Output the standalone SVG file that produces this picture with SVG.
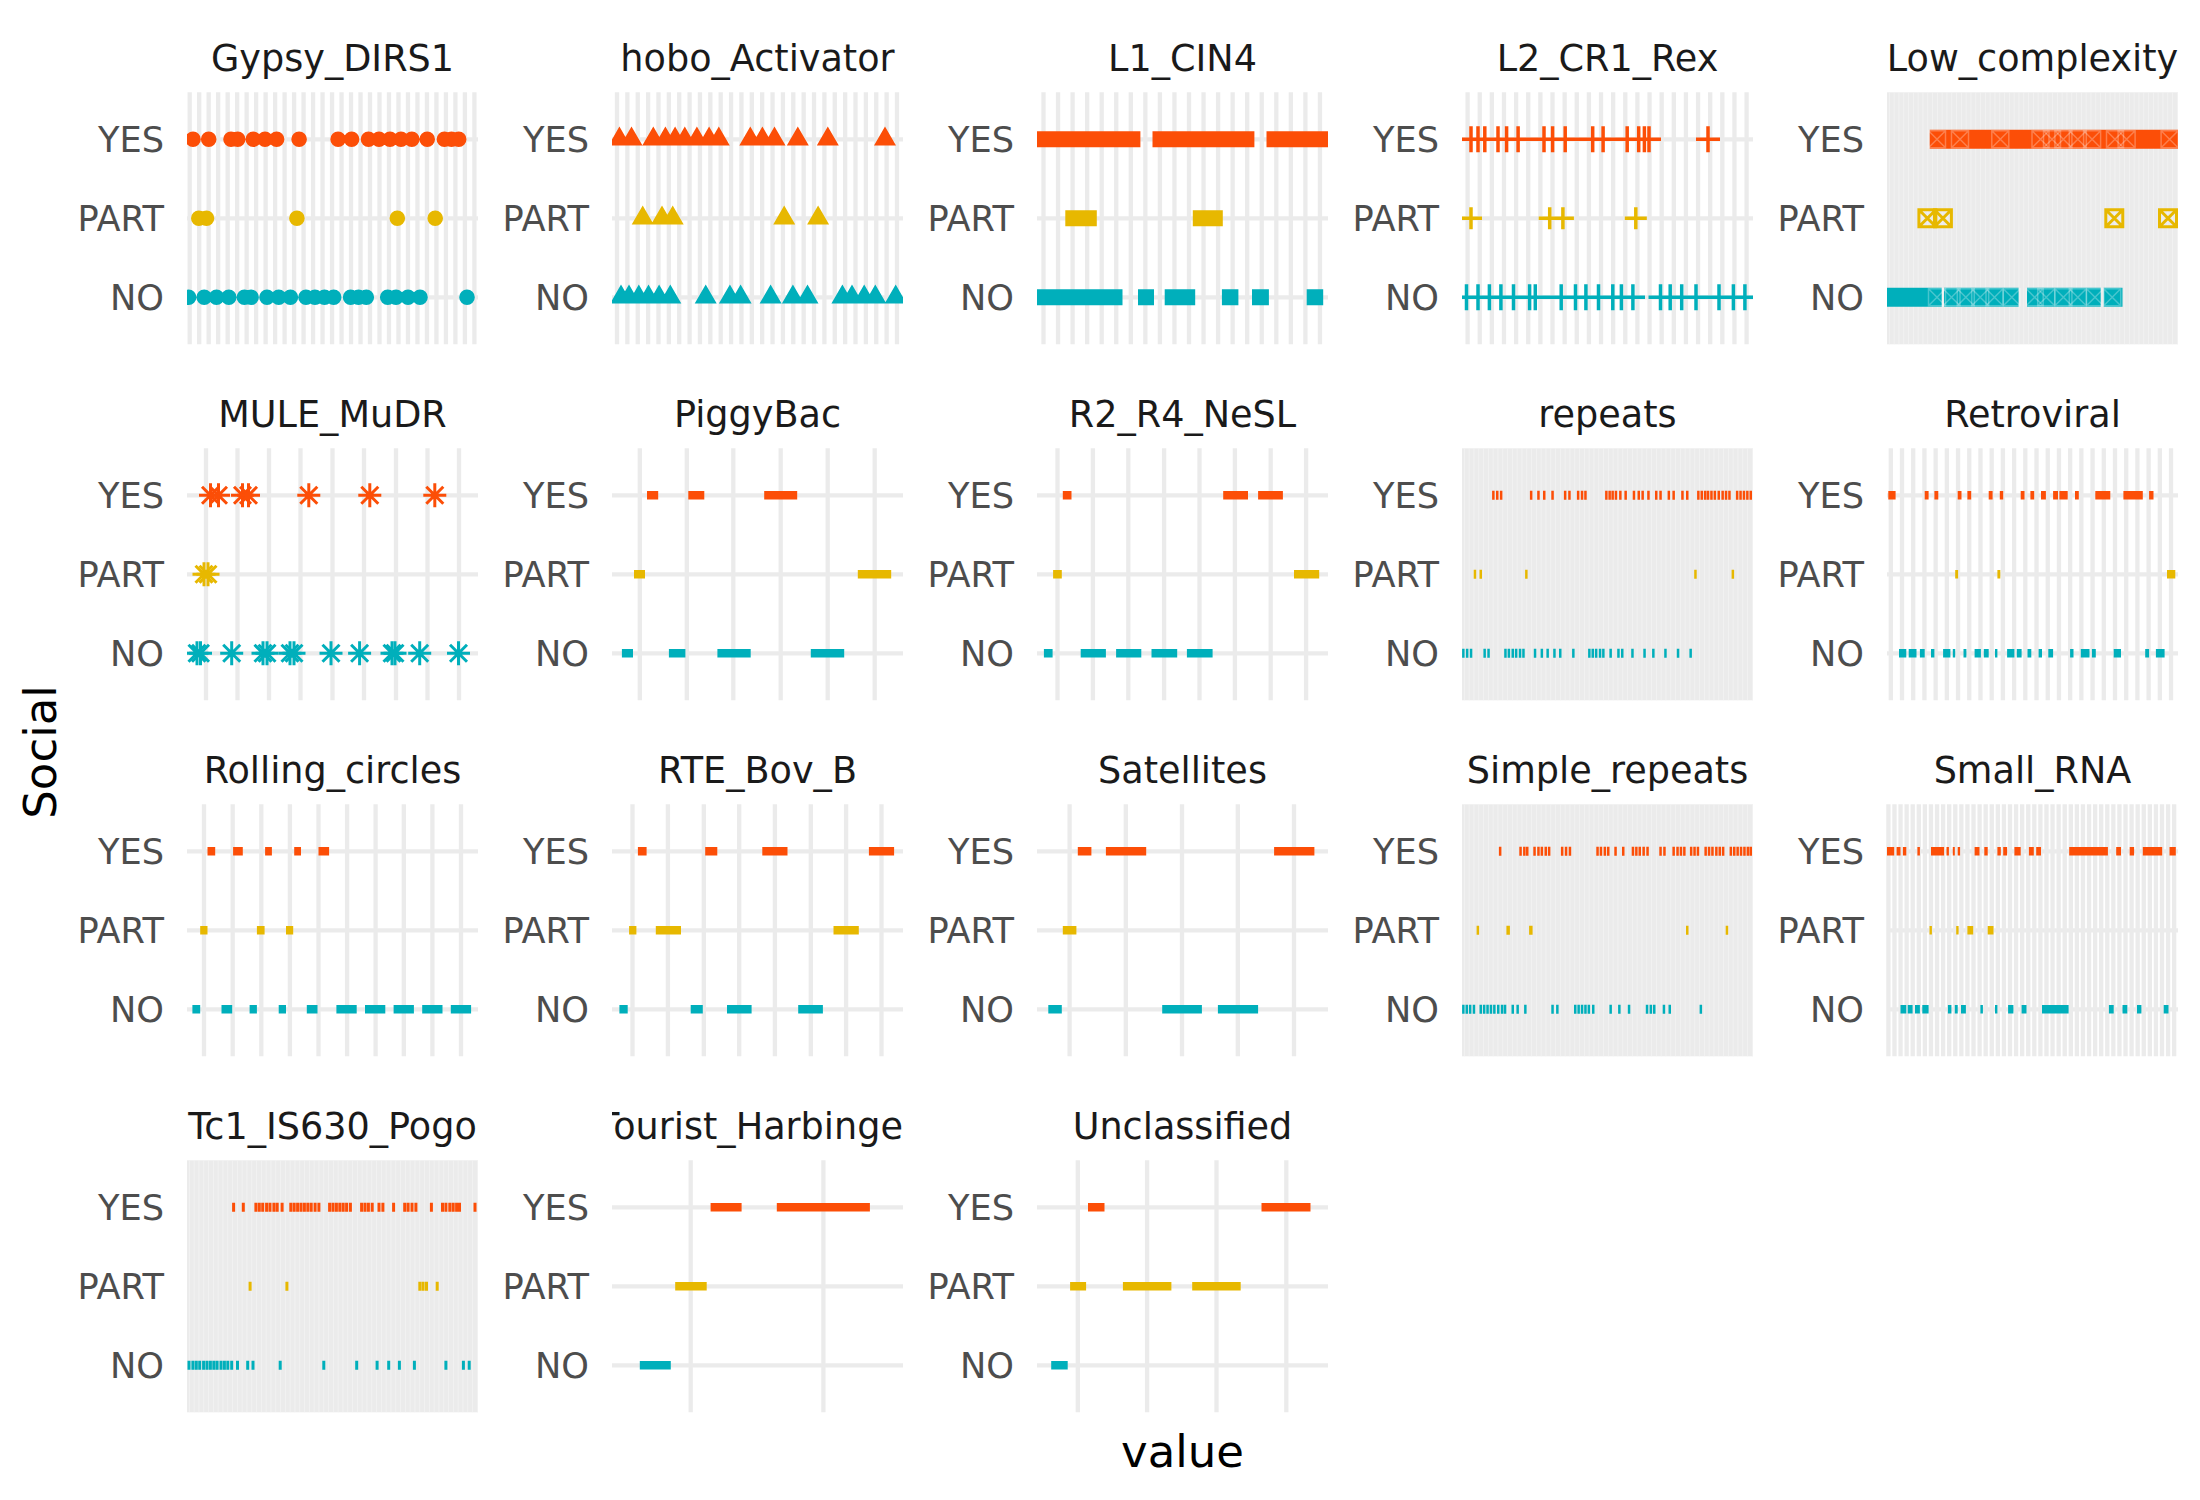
<svg xmlns="http://www.w3.org/2000/svg" width="2200" height="1500" viewBox="0 0 2200 1500">
<style>
text{font-family:"DejaVu Sans","Liberation Sans",sans-serif}
.st{font-size:36.6px;fill:#1A1A1A;text-anchor:middle}
.ax{font-size:35.2px;fill:#4D4D4D;text-anchor:end}
.ti{font-size:45px;fill:#000;text-anchor:middle}
.gr{stroke:#EBEBEB;stroke-width:4.3;fill:none}
.gv{stroke:#EBEBEB;stroke-width:252;fill:none}
.dense{fill:#EBEBEB}
.lt{stroke:#F4F4F4;stroke-width:252;fill:none;stroke-dasharray:0.7 4.1}
.Y{stroke:#FC4E07;fill:none}
.P{stroke:#E7B800;fill:none}
.N{stroke:#00AFBB;fill:none}
.fY{fill:#FC4E07}.fP{fill:#E7B800}.fN{fill:#00AFBB}
.bar{stroke-width:8.6}
.tk{stroke-width:9}
.sq{stroke-width:16}
.lo{stroke-width:19}
.dot{stroke-width:15.6;stroke-linecap:round}
.cr{stroke-width:3.5}
.as{stroke-width:3}
.bxs{stroke-width:3}
.tex{stroke:#FFFFFF;stroke-opacity:0.28;stroke-width:1.5;fill:none}
</style>
<defs>
<clipPath id="pc"><rect x="0" y="0" width="291" height="252"/></clipPath>
<clipPath id="sc"><rect x="0" y="-60" width="291" height="60"/></clipPath>
<path id="ast" d="M-11.5 0h23M0-12v24M-8.5-8.5l17 17M-8.5 8.5l17-17"/>
<path id="bx" d="M-8.5-8.5h17v17h-17zM-8.5-8.5l17 17M-8.5 8.5l17-17"/>
</defs>
<rect width="2200" height="1500" fill="#FFFFFF"/>

<g id="connectors"></g>

<!-- Row 1 -->
<g id="p-gypsy-dirs1" transform="translate(187,92.3)">
<line class="gv" x1="0.55" y1="126" x2="289.65" y2="126" stroke-dasharray="4.3 5.19"/>
<path class="gr" d="M0 47H291M0 126H291M0 205H291"/>
<text class="st" x="145.5" y="-21" clip-path="url(#sc)">Gypsy_DIRS1</text>
<text class="ax" x="-23" y="59.8">YES</text><text class="ax" x="-23" y="138.8">PART</text><text class="ax" x="-23" y="217.8">NO</text>
<g clip-path="url(#pc)">
<path class="Y dot" d="M6 47h.01M21.7 47h.01M44 47h.01M50.7 47h.01M66.3 47h.01M78 47h.01M89.6 47h.01M112.1 47h.01M151.1 47h.01M164.6 47h.01M181.5 47h.01M192 47h.01M203 47h.01M214 47h.01M224.8 47h.01M240.2 47h.01M257.4 47h.01M264.5 47h.01M271.7 47h.01"/>
<path class="P dot" d="M11.8 126h.01M19.5 126h.01M109.9 126h.01M210.3 126h.01M248.2 126h.01"/>
<path class="N dot" d="M1.6 205h.01M17.2 205h.01M29.5 205h.01M41.8 205h.01M57.4 205h.01M64.1 205h.01M80 205h.01M91.7 205h.01M103.4 205h.01M119 205h.01M128 205h.01M137.5 205h.01M146.7 205h.01M163.6 205h.01M171.5 205h.01M179.3 205h.01M200.7 205h.01M209 205h.01M221 205h.01M233 205h.01M280 205h.01"/>
</g>
</g>

<g id="p-hobo-activator" transform="translate(612,92.3)">
<line class="gv" x1="2.85" y1="126" x2="287.15" y2="126" stroke-dasharray="4.3 6.07"/>
<path class="gr" d="M0 47H291M0 126H291M0 205H291"/>
<text class="st" x="145.5" y="-21" clip-path="url(#sc)">hobo_Activator</text>
<text class="ax" x="-23" y="59.8">YES</text><text class="ax" x="-23" y="138.8">PART</text><text class="ax" x="-23" y="217.8">NO</text>
<g clip-path="url(#pc)">
<path class="fY" d="M7.4 34.3l11 19h-22zM19.5 34.3l11 19h-22zM41.3 34.3l11 19h-22zM53.4 34.3l11 19h-22zM63.1 34.3l11 19h-22zM72.8 34.3l11 19h-22zM84.9 34.3l11 19h-22zM97.1 34.3l11 19h-22zM106.8 34.3l11 19h-22zM138.3 34.3l11 19h-22zM150.4 34.3l11 19h-22zM162.5 34.3l11 19h-22zM185.8 34.3l11 19h-22zM215.8 34.3l11 19h-22zM273 34.3l11 19h-22z"/>
<path class="fP" d="M30.7 113.3l11 19h-22zM50 113.3l11 19h-22zM60.7 113.3l11 19h-22zM172.2 113.3l11 19h-22zM206.1 113.3l11 19h-22z"/>
<path class="fN" d="M9 192.3l11 19h-22zM17 192.3l11 19h-22zM26.8 192.3l11 19h-22zM36.5 192.3l11 19h-22zM47.1 192.3l11 19h-22zM58.3 192.3l11 19h-22zM93.7 192.3l11 19h-22zM117.9 192.3l11 19h-22zM128.6 192.3l11 19h-22zM158.6 192.3l11 19h-22zM180.9 192.3l11 19h-22zM195.5 192.3l11 19h-22zM230.4 192.3l11 19h-22zM240 192.3l11 19h-22zM252.2 192.3l11 19h-22zM263.3 192.3l11 19h-22zM283.7 192.3l11 19h-22z"/>
</g>
</g>

<g id="p-l1-cin4" transform="translate(1037,92.3)">
<line class="gv" x1="4.35" y1="126" x2="285.15" y2="126" stroke-dasharray="4.3 10.25"/>
<path class="gr" d="M0 47H291M0 126H291M0 205H291"/>
<text class="st" x="145.5" y="-21" clip-path="url(#sc)">L1_CIN4</text>
<text class="ax" x="-23" y="59.8">YES</text><text class="ax" x="-23" y="138.8">PART</text><text class="ax" x="-23" y="217.8">NO</text>
<g clip-path="url(#pc)">
<path class="Y sq" d="M0 47H103.4M115.5 47H217.4M229.5 47H291"/>
<path class="P sq" d="M28.3 126H59.8M155.8 126H185.8"/>
<path class="N sq" d="M0 205H85.5M101 205H117M127.7 205H158.2M184.9 205H201.4M215 205H231.9M269.7 205H286.2"/>
</g>
</g>

<g id="p-l2-cr1-rex" transform="translate(1462,92.3)">
<line class="gv" x1="3.45" y1="126" x2="286.75" y2="126" stroke-dasharray="4.3 7.83"/>
<path class="gr" d="M0 47H291M0 126H291M0 205H291"/>
<text class="st" x="145.5" y="-21" clip-path="url(#sc)">L2_CR1_Rex</text>
<text class="ax" x="-23" y="59.8">YES</text><text class="ax" x="-23" y="138.8">PART</text><text class="ax" x="-23" y="217.8">NO</text>
<g clip-path="url(#pc)">
<path class="Y cr" d="M0 47H199M234 47h24M9 34v26M16 34v26M22.8 34v26M36 34v26M44.6 34v26M56.1 34v26M82 34v26M90.6 34v26M103.2 34v26M130.7 34v26M141.1 34v26M165.2 34v26M176.7 34v26M182.4 34v26M187 34v26M246 34v26"/>
<path class="P cr" d="M-2 126h22M76.7 126h35.2M162.8 126h22M9 115v22M87.7 115v22M100.9 115v22M173.8 115v22"/>
<path class="N cr" d="M0 205H183M186.5 205H291M4.5 192v26M16 192v26M27.4 192v26M38.9 192v26M51.5 192v26M67.6 192v26M73.3 192v26M99.2 192v26M113.5 192v26M123.9 192v26M136.5 192v26M150.8 192v26M159.4 192v26M170.9 192v26M198.5 192v26M208.2 192v26M219.7 192v26M234 192v26M257 192v26M271.4 192v26M282.9 192v26"/>
</g>
</g>

<g id="p-low-complexity" transform="translate(1887,92.3)">
<rect class="dense" x="0" y="0" width="291" height="252"/>
<line class="lt" x1="2" y1="126" x2="291" y2="126"/>
<text class="st" x="145.5" y="-21" clip-path="url(#sc)">Low_complexity</text>
<text class="ax" x="-23" y="59.8">YES</text><text class="ax" x="-23" y="138.8">PART</text><text class="ax" x="-23" y="217.8">NO</text>
<g clip-path="url(#pc)">
<path class="Y lo" d="M42.7 47H291"/>
<path class="N lo" d="M0 205H54.7M57 205H131.6M140 205H213.7M216.6 205H235.5"/>
<g class="tex">
<use href="#bx" x="50" y="47"/><use href="#bx" x="73" y="47"/><use href="#bx" x="113.3" y="47"/><use href="#bx" x="153.5" y="47"/><use href="#bx" x="165" y="47"/><use href="#bx" x="176.4" y="47"/><use href="#bx" x="190.8" y="47"/><use href="#bx" x="205.1" y="47"/><use href="#bx" x="228" y="47"/><use href="#bx" x="239.6" y="47"/><use href="#bx" x="282.6" y="47"/>
<use href="#bx" x="50" y="205"/><use href="#bx" x="64.5" y="205"/><use href="#bx" x="78.8" y="205"/><use href="#bx" x="93.2" y="205"/><use href="#bx" x="107.5" y="205"/><use href="#bx" x="124.8" y="205"/><use href="#bx" x="147.7" y="205"/><use href="#bx" x="159.2" y="205"/><use href="#bx" x="176.4" y="205"/><use href="#bx" x="190.8" y="205"/><use href="#bx" x="208" y="205"/><use href="#bx" x="225.2" y="205"/>
</g>
<g class="P bxs"><use href="#bx" x="40.4" y="126"/><use href="#bx" x="55.9" y="126"/><use href="#bx" x="227.3" y="126"/><use href="#bx" x="281" y="126"/></g>
</g>
</g>

<!-- Row 2 -->
<g id="p-mule-mudr" transform="translate(187,448.3)">
<path class="gr" d="M19 0V252M50.5 0V252M82 0V252M113.5 0V252M145.5 0V252M177 0V252M209 0V252M240.5 0V252M272 0V252"/>
<path class="gr" d="M0 47H291M0 126H291M0 205H291"/>
<text class="st" x="145.5" y="-21" clip-path="url(#sc)">MULE_MuDR</text>
<text class="ax" x="-23" y="59.8">YES</text><text class="ax" x="-23" y="138.8">PART</text><text class="ax" x="-23" y="217.8">NO</text>
<g clip-path="url(#pc)">
<g class="Y as"><use href="#ast" x="23.5" y="47"/><use href="#ast" x="31.5" y="47"/><use href="#ast" x="55.5" y="47"/><use href="#ast" x="61.5" y="47"/><use href="#ast" x="121.8" y="47"/><use href="#ast" x="182.8" y="47"/><use href="#ast" x="247.8" y="47"/></g>
<g class="P as"><use href="#ast" x="17" y="126"/><use href="#ast" x="21" y="126"/></g>
<g class="N as"><use href="#ast" x="10" y="205"/><use href="#ast" x="13.5" y="205"/><use href="#ast" x="44.7" y="205"/><use href="#ast" x="76" y="205"/><use href="#ast" x="80" y="205"/><use href="#ast" x="103" y="205"/><use href="#ast" x="107" y="205"/><use href="#ast" x="144" y="205"/><use href="#ast" x="172.6" y="205"/><use href="#ast" x="205" y="205"/><use href="#ast" x="208" y="205"/><use href="#ast" x="232.7" y="205"/><use href="#ast" x="271.5" y="205"/></g>
</g>
</g>

<g id="p-piggybac" transform="translate(612,448.3)">
<path class="gr" d="M27.8 0V252M74.8 0V252M121.3 0V252M168.7 0V252M215.7 0V252M262.7 0V252"/>
<path class="gr" d="M0 47H291M0 126H291M0 205H291"/>
<text class="st" x="145.5" y="-21" clip-path="url(#sc)">PiggyBac</text>
<text class="ax" x="-23" y="59.8">YES</text><text class="ax" x="-23" y="138.8">PART</text><text class="ax" x="-23" y="217.8">NO</text>
<g clip-path="url(#pc)">
<path class="Y bar" d="M35 47H46.2M76.3 47H92.3M152.2 47H185.2"/>
<path class="P bar" d="M22 126H33M245.8 126H279.2"/>
<path class="N bar" d="M9.9 205H21M56.9 205H73.4M105.4 205H138.7M198.8 205H232.2"/>
</g>
</g>

<g id="p-r2-r4-nesl" transform="translate(1037,448.3)">
<path class="gr" d="M20.5 0V252M55.9 0V252M91.3 0V252M127.1 0V252M162.5 0V252M197.9 0V252M233.7 0V252M269.1 0V252"/>
<path class="gr" d="M0 47H291M0 126H291M0 205H291"/>
<text class="st" x="145.5" y="-21" clip-path="url(#sc)">R2_R4_NeSL</text>
<text class="ax" x="-23" y="59.8">YES</text><text class="ax" x="-23" y="138.8">PART</text><text class="ax" x="-23" y="217.8">NO</text>
<g clip-path="url(#pc)">
<path class="Y bar" d="M25.8 47H34.5M186.2 47H211M221.1 47H245.9"/>
<path class="P bar" d="M16.1 126H24.8M257 126H282.2"/>
<path class="N bar" d="M6.9 205H15.6M43.7 205H68.9M79.1 205H104.3M114.5 205H140.2M149.9 205H175.6"/>
</g>
</g>

<g id="p-repeats" transform="translate(1462,448.3)">
<rect class="dense" x="0" y="0" width="291" height="252"/>
<line class="lt" x1="2" y1="126" x2="291" y2="126"/>
<text class="st" x="145.5" y="-21" clip-path="url(#sc)">repeats</text>
<text class="ax" x="-23" y="59.8">YES</text><text class="ax" x="-23" y="138.8">PART</text><text class="ax" x="-23" y="217.8">NO</text>
<g clip-path="url(#pc)">
<path class="Y tk" d="M30.1 47h2.5M34 47h2.5M37.9 47h2.5M67.9 47h2.5M75.2 47h2.5M81 47h2.5M89.3 47h2.5M101.9 47h2.5M106.2 47h2.5M114.9 47h2.5M118.8 47h2.5M122.2 47h2.5M143.1 47h2.5M146.4 47h2.5M149.4 47h2.5M152.7 47h2.5M157.1 47h2.5M162.4 47h2.5M170.7 47h2.5M175.5 47h2.5M179.4 47h2.5M185.2 47h2.5M193 47h2.5M197.3 47h2.5M205.6 47h2.5M210.4 47h2.5M219.2 47h2.5M224 47h2.5M235.1 47h2.5M238.5 47h2.5M241.9 47h2.5M244.8 47h2.5M248.2 47h2.5M251.6 47h2.5M255.5 47h2.5M259.4 47h2.5M262.8 47h2.5M266.2 47h2.5M273.9 47h2.5M277.3 47h2.5M280.7 47h2.5M284.1 47h2.5M287.5 47h2.5"/>
<path class="P tk" d="M11.7 126h2.5M17.5 126h2.5M63.1 126h2.5M232.2 126h2.5M269.6 126h2.5"/>
<path class="N tk" d="M0.1 205h2.5M3.9 205h2.5M7.8 205h2.5M21.4 205h2.5M25.3 205h2.5M42.2 205h2.5M45.6 205h2.5M49.5 205h2.5M52.9 205h2.5M56.8 205h2.5M60.2 205h2.5M71.8 205h2.5M78.6 205h2.5M84.4 205h2.5M91.2 205h2.5M97 205h2.5M110.1 205h2.5M126.1 205h2.5M129.5 205h2.5M132.9 205h2.5M136.8 205h2.5M140.1 205h2.5M147.4 205h2.5M155.2 205h2.5M159 205h2.5M169.2 205h2.5M181.3 205h2.5M190.1 205h2.5M202.2 205h2.5M214.8 205h2.5M227.4 205h2.5"/>
</g>
</g>

<g id="p-retroviral" transform="translate(1887,448.3)">
<line class="gv" x1="1.65" y1="126" x2="286.15" y2="126" stroke-dasharray="4.3 6.91"/>
<path class="gr" d="M0 47H291M0 126H291M0 205H291"/>
<text class="st" x="145.5" y="-21" clip-path="url(#sc)">Retroviral</text>
<text class="ax" x="-23" y="59.8">YES</text><text class="ax" x="-23" y="138.8">PART</text><text class="ax" x="-23" y="217.8">NO</text>
<g clip-path="url(#pc)">
<path class="Y bar" d="M1.3 47H8.6M37.7 47H41.6M47.4 47H51.3M70.7 47H74.5M80.4 47H84.2M101.7 47H105.6M112.8 47H116.2M133.7 47H137.5M143.4 47H147.2M154 47H158.9M166.1 47H171M172.4 47H180.7M188 47H191.8M208.3 47H223.3M236.4 47H255.8M262.1 47H266.5"/>
<path class="P bar" d="M68.2 126H71.1M110.4 126H113.3M280 126H288.3"/>
<path class="N bar" d="M12 205H19.3M21.7 205H29.5M32.9 205H37.7M44 205H47.4M56.1 205H63.4M65.8 205H68.2M76.5 205H79.4M87.6 205H93.9M96.8 205H101.7M108 205H110.4M120.1 205H127.4M129.8 205H134.6M140.5 205H144.3M151.6 205H155M161.3 205H166.1M183.1 205H186.5M193.8 205H202.5M204.9 205H208.8M226.7 205H234M258.2 205H262.1M268.9 205H277.6"/>
</g>
</g>

<!-- Row 3 -->
<g id="p-rolling-circles" transform="translate(187,804.3)">
<path class="gr" d="M17 0V252M45.7 0V252M74.3 0V252M102.9 0V252M131.5 0V252M160.1 0V252M188.6 0V252M216.8 0V252M245.4 0V252M274 0V252"/>
<path class="gr" d="M0 47H291M0 126H291M0 205H291"/>
<text class="st" x="145.5" y="-21" clip-path="url(#sc)">Rolling_circles</text>
<text class="ax" x="-23" y="59.8">YES</text><text class="ax" x="-23" y="138.8">PART</text><text class="ax" x="-23" y="217.8">NO</text>
<g clip-path="url(#pc)">
<path class="Y bar" d="M20.5 47H28.2M46.1 47H55.8M78.1 47H84.9M107.2 47H114M131.5 47H142.1"/>
<path class="P bar" d="M13.2 126H20.5M69.9 126H77.6M99 126H106.2"/>
<path class="N bar" d="M5.4 205H13.2M34.5 205H45.2M62.6 205H69.9M91.7 205H99M119.8 205H130.5M149.4 205H169.7M178 205H198.3M206.6 205H226.9M235.2 205H255.5M263.8 205H284.1"/>
</g>
</g>

<g id="p-rte-bov-b" transform="translate(612,804.3)">
<path class="gr" d="M20.5 0V252M55.9 0V252M91.8 0V252M127.2 0V252M162.9 0V252M198.8 0V252M234.1 0V252M269.5 0V252"/>
<path class="gr" d="M0 47H291M0 126H291M0 205H291"/>
<text class="st" x="145.5" y="-21" clip-path="url(#sc)">RTE_Bov_B</text>
<text class="ax" x="-23" y="59.8">YES</text><text class="ax" x="-23" y="138.8">PART</text><text class="ax" x="-23" y="217.8">NO</text>
<g clip-path="url(#pc)">
<path class="Y bar" d="M25.9 47H34.6M93.2 47H105.3M150.3 47H175.5M256.9 47H282.1"/>
<path class="P bar" d="M17.1 126H24.4M43.8 126H69M221.5 126H246.8"/>
<path class="N bar" d="M7.4 205H15.7M78.7 205H90.8M115 205H139.6M186.2 205H210.9"/>
</g>
</g>

<g id="p-satellites" transform="translate(1037,804.3)">
<path class="gr" d="M32.6 0V252M88.8 0V252M145 0V252M200.8 0V252M257 0V252"/>
<path class="gr" d="M0 47H291M0 126H291M0 205H291"/>
<text class="st" x="145.5" y="-21" clip-path="url(#sc)">Satellites</text>
<text class="ax" x="-23" y="59.8">YES</text><text class="ax" x="-23" y="138.8">PART</text><text class="ax" x="-23" y="217.8">NO</text>
<g clip-path="url(#pc)">
<path class="Y bar" d="M40.8 47H54.4M68.9 47H109.2M237.1 47H277.4"/>
<path class="P bar" d="M25.8 126H39.4"/>
<path class="N bar" d="M11.3 205H24.8M125.2 205H164.9M180.9 205H221.1"/>
</g>
</g>

<g id="p-simple-repeats" transform="translate(1462,804.3)">
<rect class="dense" x="0" y="0" width="291" height="252"/>
<line class="lt" x1="2" y1="126" x2="291" y2="126"/>
<text class="st" x="145.5" y="-21" clip-path="url(#sc)">Simple_repeats</text>
<text class="ax" x="-23" y="59.8">YES</text><text class="ax" x="-23" y="138.8">PART</text><text class="ax" x="-23" y="217.8">NO</text>
<g clip-path="url(#pc)">
<path class="Y tk" d="M36.9 47h2.5M57.3 47h2.5M61.1 47h2.5M64 47h2.5M71.3 47h2.5M75.2 47h2.5M78.6 47h2.5M82.5 47h2.5M85.9 47h2.5M98.9 47h2.5M102.8 47h2.5M106.7 47h2.5M134.3 47h2.5M137.7 47h2.5M141.6 47h2.5M145 47h2.5M152.3 47h2.5M160 47h2.5M169.7 47h2.5M173.1 47h2.5M176.5 47h2.5M180.4 47h2.5M184.3 47h2.5M197.3 47h2.5M201.2 47h2.5M210.4 47h2.5M214.3 47h2.5M217.7 47h2.5M221.1 47h2.5M227.9 47h2.5M231.3 47h2.5M234.7 47h2.5M242.4 47h2.5M245.8 47h2.5M249.2 47h2.5M253.1 47h2.5M256.5 47h2.5M259.9 47h2.5M267.6 47h2.5M271 47h2.5M274.4 47h2.5M277.8 47h2.5M281.2 47h2.5M284.6 47h2.5M287.5 47h2.5"/>
<path class="P tk" d="M14.6 126h2.5M44.4 126h3.5M67.1 126h3.5M224 126h2.5M263.7 126h2.5"/>
<path class="N tk" d="M0.1 205h2.5M3.5 205h2.5M6.9 205h2.5M10.7 205h2.5M17.5 205h2.5M20.9 205h2.5M24.3 205h2.5M27.7 205h2.5M31.1 205h2.5M35 205h2.5M38.8 205h2.5M41.8 205h2.5M49.5 205h2.5M54.4 205h2.5M62.1 205h2.5M89.3 205h2.5M94.1 205h2.5M112 205h2.5M115.4 205h2.5M118.8 205h2.5M122.2 205h2.5M125.6 205h2.5M130 205h2.5M147.4 205h2.5M156.1 205h2.5M165.8 205h2.5M183.8 205h2.5M187.6 205h2.5M191 205h2.5M200.7 205h2.5M206.5 205h2.5M237.6 205h2.5"/>
</g>
</g>

<g id="p-small-rna" transform="translate(1887,804.3)">
<line class="gv" x1="-0.75" y1="126" x2="289.45" y2="126" stroke-dasharray="4.3 1.78"/>
<path class="gr" d="M0 47H291M0 126H291M0 205H291"/>
<text class="st" x="145.5" y="-21" clip-path="url(#sc)">Small_RNA</text>
<text class="ax" x="-23" y="59.8">YES</text><text class="ax" x="-23" y="138.8">PART</text><text class="ax" x="-23" y="217.8">NO</text>
<g clip-path="url(#pc)">
<path class="Y bar" d="M0 47H7.2M9.6 47H13.5M15.9 47H19.3M30.4 47H32.9M44 47H57.1M59.5 47H61.9M65.8 47H67.8M70.7 47H73.1M87.6 47H92.5M97.3 47H100.7M110.4 47H113.8M116.2 47H120.1M127.4 47H133.7M141.9 47H146.8M149.2 47H154M182.2 47H220.9M229.2 47H234M242.7 47H247.1M255.8 47H275.2M282.5 47H288.8"/>
<path class="P bar" d="M42.5 126H44.9M69.2 126H71.6M80.4 126H86.2M100.7 126H106.5"/>
<path class="N bar" d="M13.5 205H19.3M20.7 205H25.6M28 205H32.9M35.3 205H41.6M60.9 205H64.4M67.8 205H70.7M74 205H78.9M93.4 205H95.9M108 205H110.4M121.1 205H126.4M134.6 205H139.5M155 205H181.6M221.9 205H226.7M235.5 205H240.3M250 205H254.4M276.7 205H281.5"/>
</g>
</g>

<!-- Row 4 -->
<g id="p-tc1-is630-pogo" transform="translate(187,1160.3)">
<rect class="dense" x="0" y="0" width="291" height="252"/>
<line class="lt" x1="2" y1="126" x2="291" y2="126"/>
<text class="st" x="145.5" y="-21" clip-path="url(#sc)">Tc1_IS630_Pogo</text>
<text class="ax" x="-23" y="59.8">YES</text><text class="ax" x="-23" y="138.8">PART</text><text class="ax" x="-23" y="217.8">NO</text>
<g clip-path="url(#pc)">
<path class="Y tk" d="M45.1 47h3M54.8 47h3M67.4 47h3M70.8 47h3M74.2 47h3M78.1 47h3M81.5 47h3M85.4 47h3M88.7 47h3M93.6 47h3M102.3 47h3M105.7 47h3M109.1 47h3M112.5 47h3M115.9 47h3M119.3 47h3M122.7 47h3M126.6 47h3M130.4 47h3M141.1 47h3M144.5 47h3M147.9 47h3M151.3 47h3M154.7 47h3M158.1 47h3M161.9 47h3M173.1 47h3M176.5 47h3M179.9 47h3M183.7 47h3M190.5 47h3M194.4 47h3M205.1 47h3M216.2 47h3M219.6 47h3M223.5 47h3M227.4 47h3M242.9 47h3M254 47h3M257.4 47h3M261.3 47h3M264.7 47h3M268.1 47h3M271 47h3M286.5 47h3"/>
<path class="P tk" d="M61.6 126h3M98.4 126h3M231.3 126h3M234.6 126h3M238 126h3M248.7 126h3"/>
<path class="N tk" d="M0.5 205h3M4.4 205h3M7.8 205h3M11.2 205h3M15.1 205h3M18.5 205h3M21.9 205h3M25.3 205h3M28.6 205h3M32.5 205h3M35.9 205h3M39.3 205h3M43.2 205h3M49 205h3M59.2 205h3M64.5 205h3M91.7 205h3M135.3 205h3M168.2 205h3M188.6 205h3M200.2 205h3M210.9 205h3M225.9 205h3M257.4 205h3M274.9 205h3M280.7 205h3"/>
</g>
</g>

<g id="p-tourist-harbinger" transform="translate(612,1160.3)">
<path class="gr" d="M78.7 0V252M211.4 0V252"/>
<path class="gr" d="M0 47H291M0 126H291M0 205H291"/>
<text class="st" x="145.5" y="-21" clip-path="url(#sc)">Tourist_Harbinger</text>
<text class="ax" x="-23" y="59.8">YES</text><text class="ax" x="-23" y="138.8">PART</text><text class="ax" x="-23" y="217.8">NO</text>
<g clip-path="url(#pc)">
<path class="Y bar" d="M98.6 47H129.6M164.8 47H257.9"/>
<path class="P bar" d="M63.2 126H94.7"/>
<path class="N bar" d="M27.8 205H58.8"/>
</g>
</g>

<g id="p-unclassified" transform="translate(1037,1160.3)">
<path class="gr" d="M40.8 0V252M110.1 0V252M179.5 0V252M249.3 0V252"/>
<path class="gr" d="M0 47H291M0 126H291M0 205H291"/>
<text class="st" x="145.5" y="-21" clip-path="url(#sc)">Unclassified</text>
<text class="ax" x="-23" y="59.8">YES</text><text class="ax" x="-23" y="138.8">PART</text><text class="ax" x="-23" y="217.8">NO</text>
<g clip-path="url(#pc)">
<path class="Y bar" d="M51 47H67.5M224.5 47H273.5"/>
<path class="P bar" d="M33.1 126H49.1M85.9 126H134.4M155.2 126H203.7"/>
<path class="N bar" d="M14.2 205H30.7"/>
</g>
</g>

<g id="axis-titles">
<text class="ti" x="1182.5" y="1467">value</text>
<text class="ti" transform="translate(56,752) rotate(-90)">Social</text>
</g>
</svg>
